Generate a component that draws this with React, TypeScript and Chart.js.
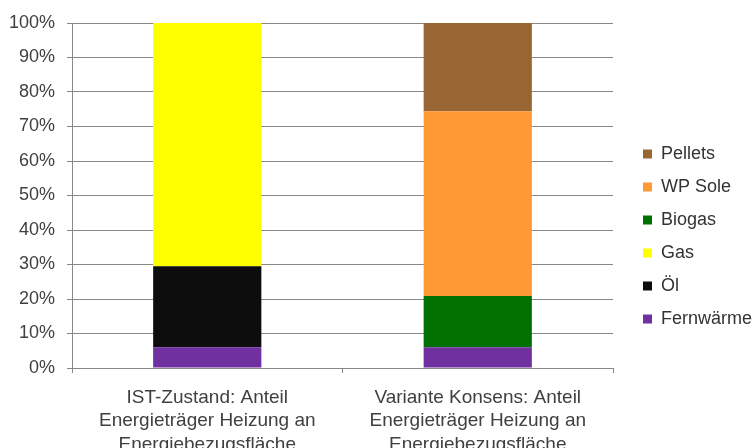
import React, { useEffect, useRef } from "react";
import { Chart, registerables } from "chart.js";

Chart.register(...registerables);

const categories: string[][] = [
  ["IST-Zustand: Anteil", "Energieträger Heizung an", "Energiebezugsfläche"],
  ["Variante Konsens: Anteil", "Energieträger Heizung an", "Energiebezugsfläche"],
];

const seriesNames = ["Fernwärme", "Öl", "Gas", "Biogas", "WP Sole", "Pellets"];
const fernwaerme = [6, 6];
const oel = [23.5, 0];
const gas = [70.5, 0];
const biogas = [0, 14.9];
const wpSole = [0, 53.5];
const pellets = [0, 25.6];
const seriesColors = ["#7030A0", "#0D0D0D", "#FFFF00", "#007000", "#FF9933", "#996633"];

const yTickValues = [0, 10, 20, 30, 40, 50, 60, 70, 80, 90, 100];

const FONT = "'Liberation Sans', Arial, sans-serif";

export default function App() {
  const ref = useRef<HTMLCanvasElement | null>(null);

  useEffect(() => {
    if (!ref.current) return;
    const values = [fernwaerme, oel, gas, biogas, wpSole, pellets];
    const chart = new Chart(ref.current, {
      type: "bar",
      data: {
        labels: categories,
        datasets: seriesNames.map((name, i) => ({
          label: name,
          data: values[i],
          backgroundColor: seriesColors[i],
          borderWidth: 0,
          categoryPercentage: 1,
          barPercentage: 0.4,
        })),
      },
      options: {
        responsive: false,
        animation: false,
        devicePixelRatio: 1,
        layout: { padding: { left: 9, top: 23, right: 0, bottom: 0 } },
        plugins: {
          tooltip: { enabled: false },
          legend: {
            position: "right",
            align: "start",
            reverse: true,
            maxWidth: 126,
            title: {
              display: true,
              text: "",
              font: { size: 10, family: FONT },
              padding: { top: 95, bottom: 0, left: 0, right: 0 },
            },
            labels: {
              boxWidth: 9,
              boxHeight: 9,
              padding: 15,
              color: "#333333",
              font: { size: 18, family: FONT },
            },
          },
        },
        scales: {
          x: {
            stacked: true,
            afterFit: (s: any) => {
              s.height = 85;
            },
            grid: {
              display: true,
              drawOnChartArea: false,
              drawTicks: true,
              tickLength: 5,
              color: "#888888",
              offset: true,
            },
            border: { display: true, color: "#888888" },
            ticks: {
              color: "#404040",
              padding: 13,
              maxRotation: 0,
              autoSkip: false,
              font: { size: 19, family: FONT, lineHeight: 1.23 },
            },
          },
          y: {
            stacked: true,
            min: 0,
            max: 100,
            afterBuildTicks: (s: any) => {
              s.ticks = yTickValues.map((v) => ({ value: v }));
            },
            afterFit: (s: any) => {
              s.width = 63;
            },
            grid: {
              color: "#888888",
              drawTicks: true,
              tickLength: 5,
            },
            border: { display: true, color: "#888888" },
            ticks: {
              color: "#404040",
              padding: 12,
              font: { size: 18, family: FONT },
              callback: (v: any) => v + "%",
            },
          },
          yR: {
            type: "linear",
            position: "right",
            display: true,
            grid: { display: false, drawTicks: false },
            border: { display: false },
            ticks: { display: false },
            afterFit: (s: any) => {
              s.width = 15;
            },
          },
        },
      },
    } as any);
    return () => chart.destroy();
  }, []);

  return (
    <div
      style={{
        position: "fixed",
        left: 0,
        top: 0,
        width: 754,
        height: 448,
        overflow: "hidden",
        background: "#ffffff",
      }}
    >
      <canvas ref={ref} width={754} height={453} style={{ width: 754, height: 453, display: "block" }} />
    </div>
  );
}
